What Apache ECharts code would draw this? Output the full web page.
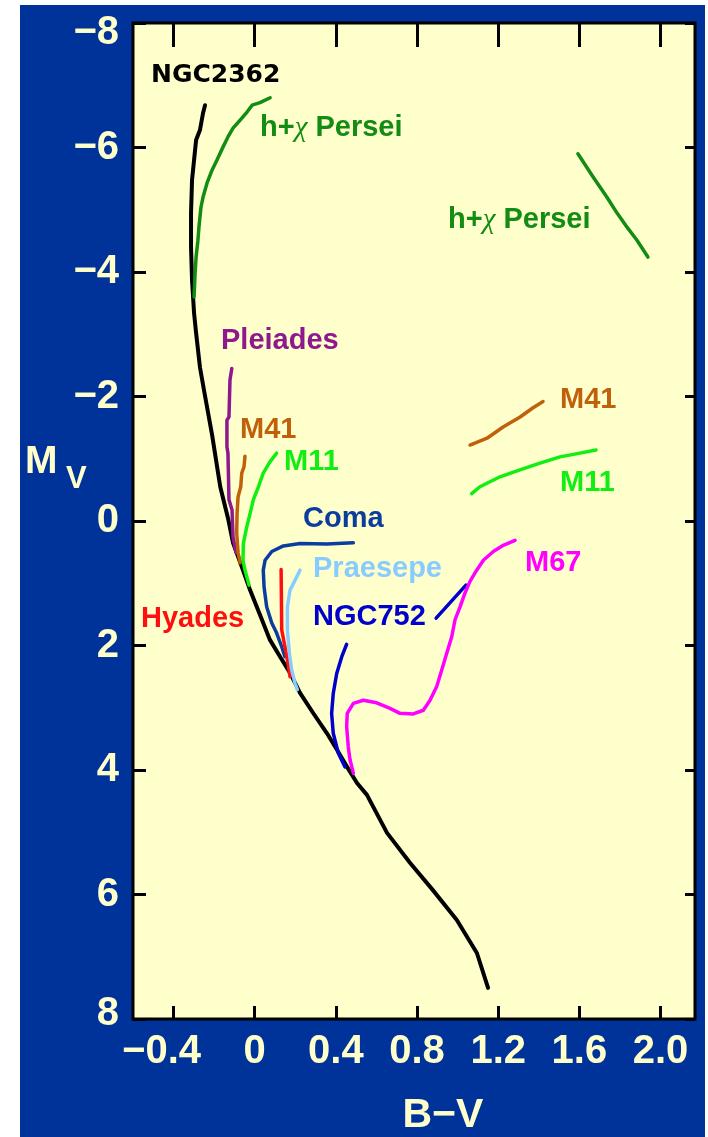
<!DOCTYPE html>
<html><head><meta charset="utf-8">
<script src="https://cdn.jsdelivr.net/npm/echarts@6/dist/echarts.min.js"></script>
<style>html,body{margin:0;padding:0;background:#fff}#c{width:708px;height:1137px}</style>
</head><body><div id="c"></div>
<script>
// Tick values and labels
const xTickValues = [-0.4, 0, 0.4, 0.8, 1.2, 1.6, 2.0];
const xTickLabels = ['−0.4', '0', '0.4', '0.8', '1.2', '1.6', '2.0'];
const yTickValues = [-8, -6, -4, -2, 0, 2, 4, 6, 8];
const yTickLabels = ['−8', '−6', '−4', '−2', '0', '2', '4', '6', '8'];

// Cluster sequences: [B-V, M_V]
const ngc2362 = [[-0.245,-6.68],[-0.255,-6.55],[-0.27,-6.28],[-0.289,-6.12],[-0.299,-5.80],[-0.309,-5.48],[-0.314,-4.95],[-0.314,-4.40],[-0.309,-3.87],[-0.299,-3.34],[-0.289,-3.02],[-0.27,-2.47],[-0.25,-2.10],[-0.21,-1.38],[-0.17,-0.55],[-0.13,-0.02],[-0.107,0.35],[-0.058,0.79],[-0.023,1.11],[0.036,1.59],[0.075,1.91],[0.125,2.18],[0.174,2.44],[0.223,2.76],[0.287,3.08],[0.356,3.41],[0.406,3.68],[0.455,3.95],[0.504,4.21],[0.553,4.40],[0.652,5.01],[0.765,5.49],[0.878,5.93],[0.996,6.41],[1.095,6.94],[1.15,7.5]];
const hPerseiMS = [[0.076,-6.80],[0.026,-6.72],[-0.013,-6.68],[-0.038,-6.57],[-0.072,-6.44],[-0.107,-6.31],[-0.132,-6.17],[-0.156,-6.01],[-0.186,-5.80],[-0.21,-5.64],[-0.235,-5.43],[-0.255,-5.20],[-0.265,-5.04],[-0.275,-4.72],[-0.28,-4.51],[-0.289,-4.24],[-0.294,-3.98],[-0.299,-3.60]];
const hPerseiGiants = [[1.593,-5.90],[1.667,-5.53],[1.736,-5.20],[1.785,-4.95],[1.835,-4.72],[1.884,-4.51],[1.938,-4.24]];
const pleiades = [[-0.113,-2.45],[-0.122,-2.27],[-0.127,-1.67],[-0.137,-1.62],[-0.137,-1.19],[-0.132,-1.09],[-0.127,-0.34],[-0.112,-0.18],[-0.107,0.26],[-0.092,0.51]];
const m41MS = [[-0.048,-1.04],[-0.053,-0.87],[-0.064,-0.77],[-0.069,-0.55],[-0.082,-0.39],[-0.087,-0.13],[-0.089,0.19],[-0.082,0.51],[-0.072,0.67]];
const m41Giants = [[1.061,-1.22],[1.145,-1.33],[1.224,-1.51],[1.308,-1.67],[1.372,-1.82],[1.421,-1.92]];
const m11MS = [[0.108,-1.09],[0.075,-0.95],[0.042,-0.77],[0.018,-0.55],[-0.007,-0.34],[-0.023,-0.12],[-0.039,0.09],[-0.056,0.36],[-0.058,0.63],[-0.048,0.79],[-0.028,1.03]];
const m11Giants = [[1.069,-0.44],[1.11,-0.55],[1.209,-0.71],[1.307,-0.82],[1.406,-0.93],[1.505,-1.03],[1.603,-1.09],[1.682,-1.14]];
const coma = [[0.486,0.35],[0.355,0.37],[0.223,0.36],[0.141,0.40],[0.084,0.49],[0.051,0.63],[0.042,0.79],[0.046,1.06],[0.059,1.38],[0.084,1.64],[0.108,1.80],[0.133,2.02],[0.149,2.18]];
const hyades = [[0.130,0.78],[0.133,1.75],[0.149,2.02],[0.161,2.23],[0.174,2.50]];
const praesepe = [[0.223,0.79],[0.199,0.95],[0.174,1.11],[0.161,1.38],[0.161,1.75],[0.171,2.13],[0.182,2.39],[0.199,2.61],[0.21,2.71]];
const ngc752MS = [[0.453,1.98],[0.429,2.18],[0.404,2.45],[0.387,2.77],[0.379,3.09],[0.387,3.41],[0.412,3.73],[0.445,3.95]];
const ngc752Giants = [[0.894,1.56],[1.041,1.03]];
const m67 = [[0.486,4.05],[0.470,3.84],[0.461,3.63],[0.453,3.30],[0.456,3.09],[0.486,2.93],[0.535,2.88],[0.601,2.92],[0.667,3.01],[0.716,3.09],[0.782,3.10],[0.831,3.04],[0.864,2.88],[0.897,2.66],[0.922,2.39],[0.946,2.13],[0.971,1.86],[0.987,1.59],[1.012,1.38],[1.036,1.16],[1.061,0.97],[1.094,0.79],[1.127,0.63],[1.176,0.49],[1.225,0.39],[1.283,0.31]];

const C = {
  black:'#000000', dkgreen:'#128c12', green:'#11ee11', purple:'#8e188e', orange:'#c0600a',
  coma:'#0b3d9e', blue:'#0000cc', light:'#88ccff', red:'#ff1010', magenta:'#ff00ff',
  cream:'#ffffcc', bg:'#003399'
};
const LAB = 'bold 29px "Liberation Sans", Arial, sans-serif';

function line(data, color, w) {
  return { type:'line', data:data, showSymbol:false, symbol:'none', silent:true,
    lineStyle:{ color:color, width:w||3.5, cap:'round', join:'round' }, z: 3 };
}
function txt(x, y, s, color, font) {
  return { type:'text', x:x, y:y, silent:true, z:10,
    style:{ text:s, fill:color, font:font||LAB, align:'left', verticalAlign:'middle' } };
}
function chiTxt(x, y) {
  return { type:'text', x:x, y:y, silent:true, z:10,
    style:{ text:'{a|h+}{c|χ}{a| Persei}', align:'left', verticalAlign:'middle',
      rich:{ a:{ fill:C.dkgreen, font:LAB }, c:{ fill:C.dkgreen, font:'italic 29px "Liberation Serif", serif' } } } };
}

const chart = echarts.init(document.getElementById('c'), null, { renderer:'canvas' });
const tickFont = { fontFamily:'"Liberation Sans", Arial, sans-serif', fontWeight:'bold', fontSize:40, color:C.cream };

chart.setOption({
  animation:false,
  backgroundColor:C.bg,
  grid:{ left:133, top:23, width:562, height:996, show:true, backgroundColor:C.cream,
         borderColor:'#000', borderWidth:3, containLabel:false, outerBoundsMode:'none' },
  xAxis:[
    { type:'value', position:'bottom', min:-0.6, max:2.17,
      axisLine:{show:false, onZero:false}, splitLine:{show:false},
      axisTick:{ show:true, inside:true, length:13, customValues:xTickValues, lineStyle:{color:'#000', width:3} },
      axisLabel:Object.assign({ show:true, margin:13, customValues:xTickValues,
        formatter:function(v){ const i = xTickValues.findIndex(t=>Math.abs(t-v)<1e-6); const s = xTickLabels[i];
          return v < 0 ? '{n|' + s + '}' : s; },
        rich:{ n:Object.assign({ padding:[0,24,0,0] }, tickFont) } }, tickFont) },
    { type:'value', position:'top', min:-0.6, max:2.17,
      axisLine:{show:false, onZero:false}, splitLine:{show:false}, axisLabel:{show:false},
      axisTick:{ show:true, inside:true, length:24, customValues:xTickValues, lineStyle:{color:'#000', width:3} } }
  ],
  yAxis:[
    { type:'value', position:'left', min:-8, max:8, interval:2, inverse:true,
      axisLine:{show:false, onZero:false}, splitLine:{show:false},
      axisTick:{ show:true, inside:true, length:13, lineStyle:{color:'#000', width:3} },
      axisLabel:Object.assign({ show:true, margin:14,
        formatter:function(v){ const i = yTickValues.indexOf(v); const s = yTickLabels[i];
          if (v === -8) return '{t|' + s + '}';
          if (v === 8) return '{b|' + s + '}';
          return s; },
        rich:{ t:Object.assign({ padding:[20,0,0,0] }, tickFont), b:Object.assign({ padding:[0,0,10,0] }, tickFont) } }, tickFont) },
    { type:'value', position:'right', min:-8, max:8, interval:2, inverse:true,
      axisLine:{show:false, onZero:false}, splitLine:{show:false}, axisLabel:{show:false},
      axisTick:{ show:true, inside:true, length:10, lineStyle:{color:'#000', width:3} } }
  ],
  series:[
    line(ngc2362, C.black, 4),
    line(hPerseiMS, C.dkgreen), line(hPerseiGiants, C.dkgreen),
    line(pleiades, C.purple),
    line(m41MS, C.orange), line(m41Giants, C.orange),
    line(m11MS, C.green), line(m11Giants, C.green),
    line(coma, C.coma), line(hyades, C.red), line(praesepe, C.light),
    line(ngc752MS, C.blue), line(ngc752Giants, C.blue),
    line(m67, C.magenta)
  ],
  graphic:[
    { type:'rect', shape:{x:0, y:0, width:20, height:1137}, style:{fill:'#fff'}, silent:true },
    { type:'rect', shape:{x:0, y:0, width:708, height:5}, style:{fill:'#fff'}, silent:true },
    { type:'rect', shape:{x:705, y:0, width:3, height:1137}, style:{fill:'#fff'}, silent:true },
    txt(151, 75, 'NGC2362', C.black, 'bold 25px "DejaVu Sans", sans-serif'),
    chiTxt(260, 128),
    chiTxt(448, 220),
    txt(221, 341, 'Pleiades', C.purple),
    txt(240, 430, 'M41', C.orange),
    txt(284, 462, 'M11', C.green),
    txt(303, 519, 'Coma', C.coma),
    txt(313, 569, 'Praesepe', C.light),
    txt(313, 617, 'NGC752', C.blue),
    txt(141, 619, 'Hyades', C.red),
    txt(525, 563, 'M67', C.magenta),
    txt(560, 400, 'M41', C.orange),
    txt(560, 483, 'M11', C.green),
    txt(25, 462, 'M', C.cream, 'bold 39px "Liberation Sans", Arial, sans-serif'),
    txt(66, 479, 'V', C.cream, 'bold 31px "Liberation Sans", Arial, sans-serif'),
    { type:'text', x:443, y:1116, silent:true, z:10,
      style:{ text:'B−V', fill:C.cream, font:'bold 41px "Liberation Sans", Arial, sans-serif', align:'center', verticalAlign:'middle' } }
  ]
});
</script>
</body></html>
